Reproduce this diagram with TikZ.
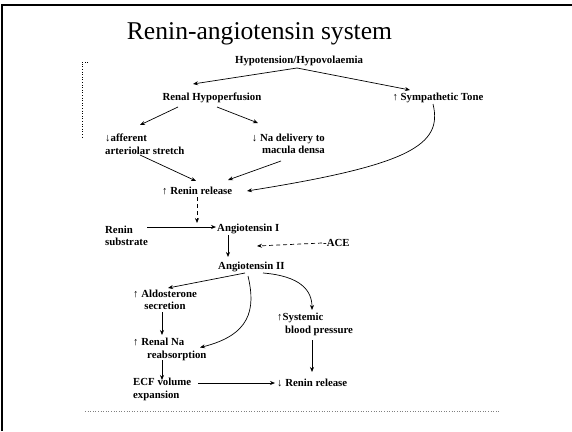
\documentclass[tikz,border=0pt]{standalone}
\usepackage{fontspec}
\setmainfont{Liberation Serif}
\usetikzlibrary{arrows.meta,calc}
\begin{document}
\begin{tikzpicture}[x=1pt,y=-1pt,
  lbl/.style={inner sep=1pt,font=\fontsize{10.8}{12.5}\selectfont\bfseries},
  conn/.style={line width=0.7pt,-{Stealth[length=5pt,width=4pt]}},
  dconn/.style={conn,dash pattern=on 4pt off 3pt}]
\useasboundingbox (0,0) rectangle (572,431);
\fill[white] (0,0) rectangle (572,431);
% slide frame
\draw[line width=2.4pt] (2,431) -- (2,5) -- (572,5);
\draw[dotted,line width=0.6pt] (88,62) -- (82,62) -- (82,137);
\draw[gray,line width=0.6pt,dash pattern=on 1pt off 1.6pt] (85,411) -- (500,411);
% title
\node[inner sep=0pt,anchor=base,font=\fontsize{25.6}{28}\selectfont] (title) at (259.5,39) {Renin-angiotensin system};
% nodes
\node[lbl] (hyp) at (299,61) {Hypotension/Hypovolaemia};
\node[lbl] (renal) at (212,98) {Renal Hypoperfusion};
\node[lbl] (symp) at (438,98) {↑ Sympathetic Tone};
\node[lbl,anchor=west,align=left] (aff) at (104,144) {↓afferent\\arteriolar stretch};
\node[lbl,anchor=east,align=right] (na) at (326,144) {↓ Na delivery to\\macula densa};
\node[lbl,anchor=west] (rr1) at (161,191) {↑ Renin release};
\node[lbl,anchor=west,align=left] (subs) at (104,236) {Renin\\substrate};
\node[lbl,anchor=west] (ang1) at (216,229) {Angiotensin I};
\node[lbl,anchor=west] (ace) at (322,243) {-ACE};
\node[lbl,anchor=west] (ang2) at (217,267) {Angiotensin II};
\node[lbl,align=center] (ald) at (165,300) {↑ Aldosterone\\secretion};
\node[lbl,anchor=west,align=left] (rna) at (132,349.5) {↑ Renal Na\\\hspace*{14pt}reabsorption};
\node[lbl,anchor=west,align=left] (ecf) at (132,389.5) {ECF volume\\expansion};
\node[lbl,anchor=west] (rr2) at (276,383) {↓ Renin release};
\node[lbl,anchor=west,align=left] (sbp) at (276,324.5) {↑Systemic\\\hspace*{8pt}blood pressure};
% connectors
\draw[conn] ($(hyp)+(-2,7)$) -- ($(renal)+(-19,-14)$);
\draw[conn] ($(hyp)+(-2,7)$) -- ($(symp)+(-28,-8)$);
\draw[conn] ($(renal)+(-34,9)$) -- ($(aff.west)+(36,-19)$);
\draw[conn] ($(renal)+(5,9)$) -- ($(na.east)+(-68,-21)$);
\draw[conn] ($(aff.west)+(36,11)$) -- ($(rr1.west)+(35,-10)$);
\draw[conn] ($(na.east)+(-45,17)$) -- ($(rr1.west)+(67,-11)$);
\draw[conn] ($(symp)+(-5,6)$) .. controls ($(symp)+(5,47)$) and ($(symp)+(-28,67)$) .. ($(rr1.west)+(86,0)$);
\draw[dconn] ($(rr1.west)+(36,6)$) -- ($(rr1.west)+(36,32)$);
\draw[conn] ($(subs.west)+(43,-9)$) -- ($(ang1.west)+(0,-2)$);
\draw[conn] ($(ang1.west)+(12,6)$) -- ($(ang2.west)+(11,-10)$);
\draw[dconn] (ace.west) -- ($(ace.west)+(-65,3)$);
\draw[conn] ($(ang2.west)+(28,6)$) -- ($(ald)+(3,-12)$);
\draw[conn] ($(ang2.west)+(31,9)$) .. controls ($(ang2.west)+(39,43)$) and ($(ang2.west)+(33,68)$) .. ($(rna.west)+(68,-2)$);
\draw[conn] ($(ang2.west)+(46,6)$) .. controls ($(ang2.west)+(83,9)$) and ($(ang2.west)+(95,23)$) .. ($(sbp.west)+(36,-14.5)$);
\draw[conn] ($(ald)+(-3,12)$) -- ($(rna.west)+(30,-14.5)$);
\draw[conn] ($(rna.west)+(30,10.5)$) -- ($(ecf.west)+(30,-9.5)$);
\draw[conn] ($(ecf.west)+(66,-6.5)$) -- ($(rr2.west)+(-1,0)$);
\draw[conn] ($(sbp.west)+(36,15.5)$) -- ($(rr2.west)+(36,-11)$);
\end{tikzpicture}
\end{document}
